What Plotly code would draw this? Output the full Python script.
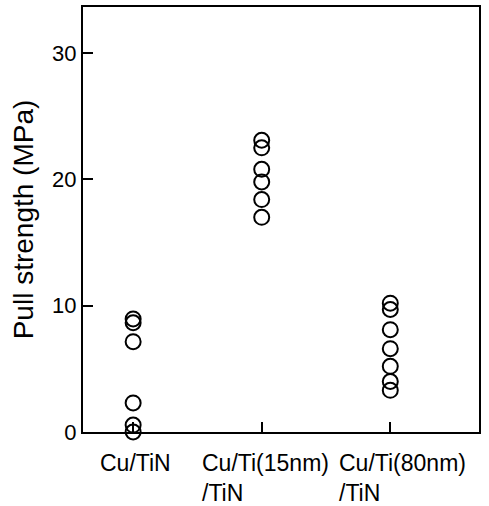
import plotly.graph_objects as go

categories = ["Cu/TiN", "Cu/Ti(15nm)<br>/TiN", "Cu/Ti(80nm)<br>/TiN"]
cu_tin = [8.95, 8.65, 7.15, 2.3, 0.55, 0.0]
cu_ti15_tin = [23.1, 22.5, 20.8, 19.8, 18.4, 17.0]
cu_ti80_tin = [10.2, 9.7, 8.1, 6.6, 5.2, 4.0, 3.3]
y_ticks = [0, 10, 20, 30]

series = [cu_tin, cu_ti15_tin, cu_ti80_tin]
label_shift = [-35, -62, -53]

FONT = "Liberation Sans, Arial, sans-serif"

fig = go.Figure()
for i, vals in enumerate(series):
    fig.add_trace(go.Scatter(
        x=[i] * len(vals), y=vals, mode="markers",
        marker=dict(symbol="circle-open", size=15, color="black",
                    line=dict(width=2, color="black")),
        cliponaxis=False, showlegend=False, hoverinfo="skip",
    ))

for i, lab in enumerate(categories):
    fig.add_annotation(x=i, y=0, xref="x", yref="paper", text=lab,
                       showarrow=False, xanchor="left", yanchor="top",
                       align="left", yshift=-16, xshift=label_shift[i],
                       font=dict(family=FONT, size=23, color="black"))

fig.update_layout(
    width=489, height=506,
    margin=dict(l=83, r=10, t=7, b=74, autoexpand=False),
    paper_bgcolor="white", plot_bgcolor="white",
    font=dict(family=FONT, size=22, color="black"),
    xaxis=dict(range=[-0.39, 2.69], tickvals=[0, 1, 2], showticklabels=False,
               ticks="inside", ticklen=10, tickwidth=2, tickcolor="black",
               showline=True, linewidth=2, linecolor="black", mirror=True,
               showgrid=False, zeroline=False, automargin=False),
    yaxis=dict(range=[0, 33.65], tickvals=y_ticks,
               ticks="inside", ticklen=10, tickwidth=2, tickcolor="black",
               showline=True, linewidth=2, linecolor="black", mirror=True,
               showgrid=False, zeroline=False, automargin=False,
               title=dict(text="Pull strength (MPa)", standoff=10,
                          font=dict(family=FONT, size=28, color="black")),
               tickfont=dict(family=FONT, size=22, color="black")),
)

fig.write_html(
    "out.html",
    config={"displayModeBar": False},
    post_script="document.body.style.margin='0';document.body.style.overflow='hidden';",
)
